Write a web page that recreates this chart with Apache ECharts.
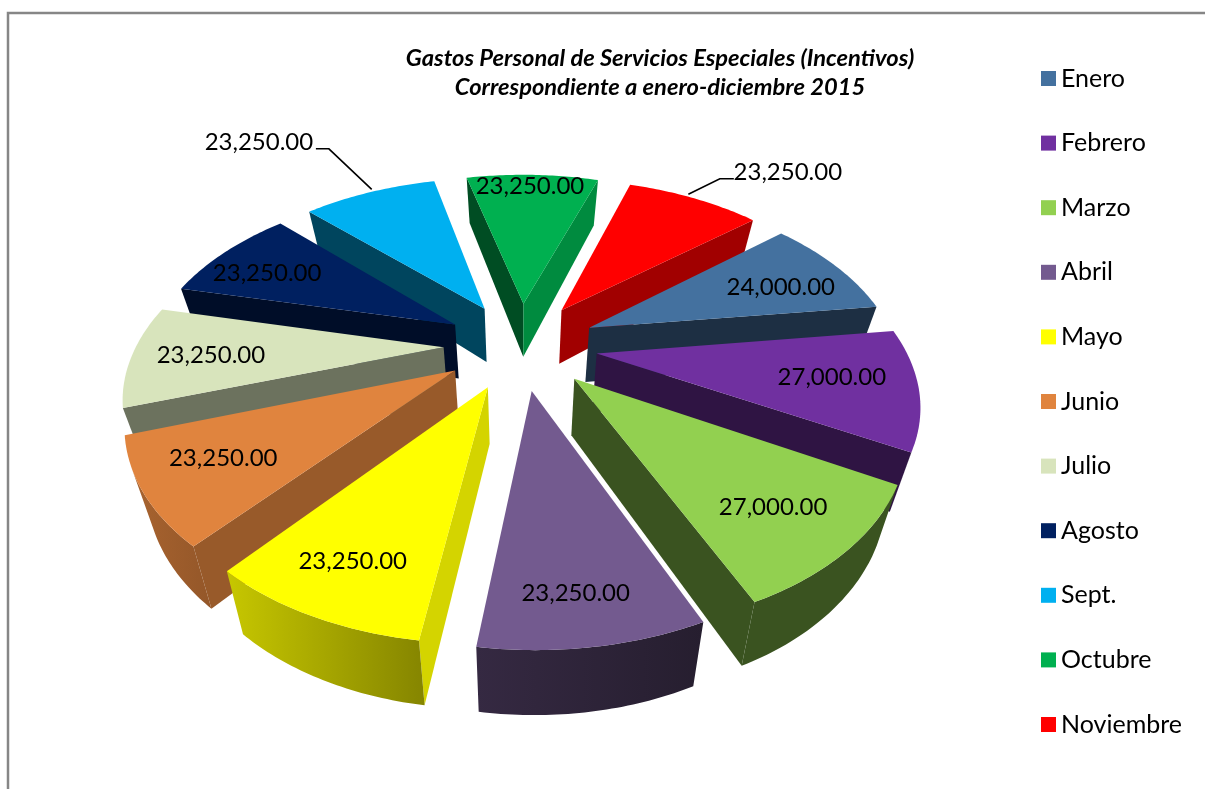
<!DOCTYPE html>
<html>
<head>
<meta charset="utf-8">
<style>html,body{margin:0;padding:0;background:#fff}#c{width:1205px;height:789px}</style>
<script src="https://cdn.jsdelivr.net/npm/echarts@6/dist/echarts.min.js"></script>
</head>
<body>
<div id="c"></div>
<script>
const months = ['Enero','Febrero','Marzo','Abril','Mayo','Junio','Julio','Agosto','Sept.','Octubre','Noviembre'];
const amounts = [24000,27000,27000,23250,23250,23250,23250,23250,23250,23250,23250];
const colors = ['#44719F','#7030A0','#92D050','#735A8F','#FFFF00','#E0843E','#D8E4BC','#002060','#00B0F0','#00B050','#FF0000'];
const titleLines = ['Gastos Personal de Servicios Especiales (Incentivos)','Correspondiente a enero-diciembre 2015'];

// view model of the tilted, exploded pie
const VIEW = {cx:520.5, cy:345, rx:307, ry:175, k:0.228, explode:0.25, depth:55, depthFront:8, baseScale:0.945, firstAngle:-13.55, firstIndex:9};
// face brightness per slice: [start face, end face, outer left, outer right]
const SHADES = [[.42,.42,.42,.42],[.42,.42,.42,.38],[.4,.4,.4,.4],[.45,.45,.46,.33],[.83,.83,.78,.52],[.68,.68,.75,.66],[.5,.5,.5,.5],[.42,.42,.42,.42],[.39,.39,.39,.39],[.44,.79,.44,.79],[.63,.63,.63,.63]];
// label polar position relative to the slice: [radius, angle shift]
const LABELS = [[.745,2],[.74,-2],[.765,0],[.82,.8],[.795,.5],[.76,2],[.75,.7],[.78,-2],[1.74,-7.4],[.92,-.5],[1.48,8]];
const LABEL_DY = 3;
const LEADERS = {8:{shift:1, side:1, gap:57, run:13}, 10:{shift:-2, side:-1, gap:54, run:14}};

const total = amounts.reduce((a,b)=>a+b,0);
const starts = [];
(function(){
  let a = VIEW.firstAngle;
  for (let n=0;n<months.length;n++){
    const i=(VIEW.firstIndex+n)%months.length;
    starts[i]=a;
    a+=amounts[i]/total*360;
  }
})();
const rad = d=>d*Math.PI/180;
const planar=(deg,r)=>[Math.sin(rad(deg))*r,-Math.cos(rad(deg))*r];
function topPt(X,Y){
  const s=1/(1-VIEW.k*Y);
  return [VIEW.cx+X*VIEW.rx*s, VIEW.cy+Y*VIEW.ry*s];
}
function botPt(X,Y){
  const p=topPt(X,Y);
  return [VIEW.cx+(p[0]-VIEW.cx)*VIEW.baseScale, p[1]+VIEW.depth+VIEW.depthFront*Y];
}
function shade(hex,f){
  const n=parseInt(hex.slice(1),16);
  const c=[n>>16&255,n>>8&255,n&255].map(v=>Math.round(v*f));
  return 'rgb('+c.join(',')+')';
}
function area(pts){
  let s=0;
  for(let i=0;i<pts.length;i++){const a=pts[i],b=pts[(i+1)%pts.length];s+=a[0]*b[1]-b[0]*a[1];}
  return s/2;
}
function fmt(v){return v.toLocaleString('en-US',{minimumFractionDigits:2,maximumFractionDigits:2});}

function sliceItem(i){
  const a0=starts[i], sweep=amounts[i]/total*360, mid=a0+sweep/2;
  const off=planar(mid,VIEW.explode);
  const P=(deg,r)=>{const q=planar(deg,r);return [q[0]+off[0],q[1]+off[1]];};
  const steps=40, arc=[];
  for(let t=0;t<=steps;t++) arc.push(P(a0+sweep*t/steps,1));
  const kids=[];
  const col=colors[i], sh=SHADES[i];
  const addFace=(pts,fill)=>{ kids.push({type:'polygon',shape:{points:pts},style:{fill:fill,stroke:null}}); };
  // radial faces, drawn only when they face the viewer
  const apexT=topPt(off[0],off[1]), apexB=botPt(off[0],off[1]);
  const startFace=[apexT,topPt(arc[0][0],arc[0][1]),botPt(arc[0][0],arc[0][1]),apexB];
  const endFace=[apexT,apexB,botPt(arc[steps][0],arc[steps][1]),topPt(arc[steps][0],arc[steps][1])];
  if(area(startFace)<0) addFace(startFace,shade(col,sh[0]));
  if(area(endFace)<0) addFace(endFace,shade(col,sh[1]));
  // outer wall: the run of segments that faces the viewer
  const run=[];
  for(let t=0;t<steps;t++){
    const a=arc[t],b=arc[t+1];
    const q=[topPt(a[0],a[1]),topPt(b[0],b[1]),botPt(b[0],b[1]),botPt(a[0],a[1])];
    if(area(q)<0) run.push(t);
  }
  if(run.length){
    const tops=[],bots=[];
    for(let t=run[0];t<=run[run.length-1]+1;t++){tops.push(topPt(arc[t][0],arc[t][1]));bots.push(botPt(arc[t][0],arc[t][1]));}
    addFace(tops.concat(bots.reverse()),{type:'linear',x:0,y:0,x2:1,y2:0,colorStops:[{offset:0,color:shade(col,sh[2])},{offset:1,color:shade(col,sh[3])}]});
  }
  // top face
  addFace([apexT].concat(arc.map(p=>topPt(p[0],p[1]))),col);
  // label
  const lp=LABELS[i], lq=P(mid+lp[1],lp[0]), lpos=topPt(lq[0],lq[1]);
  lpos[1]+=LABEL_DY;
  const ld=LEADERS[i];
  if(ld){
    const e=P(mid+ld.shift,1.02), ep=topPt(e[0],e[1]);
    const hx=lpos[0]+ld.side*ld.gap, y=lpos[1]+7;
    kids.push({type:'polyline',shape:{points:[[hx,y],[hx+ld.side*ld.run,y],ep]},style:{stroke:'#000',lineWidth:1.6,fill:null}});
  }
  kids.push({type:'text',z2:10,style:{text:fmt(amounts[i]),x:lpos[0],y:lpos[1],fill:'#000',font:'24px Lato',textAlign:'center',textVerticalAlign:'middle'}});
  return {type:'group',children:kids};
}

const drawOrder=months.map((m,i)=>i).sort((p,q)=>{
  const mid=i=>starts[i]+amounts[i]/total*180;
  return -Math.cos(rad(mid(p)))+Math.cos(rad(mid(q)));
});

const chart=echarts.init(document.getElementById('c'),null,{renderer:'canvas'});
chart.setOption({
  animation:false,
  backgroundColor:'#fff',
  title:{
    text:titleLines.join('\n'),left:655,top:39,textAlign:'center',
    textStyle:{fontFamily:'Lato',fontStyle:'italic',fontWeight:'bold',fontSize:23.7,lineHeight:29,color:'#000'}
  },
  legend:{
    data:months,orient:'vertical',left:1036,top:61,itemWidth:15,itemHeight:15,itemGap:39.6,icon:'rect',
    selectedMode:false,textStyle:{fontFamily:'Lato',fontSize:25,lineHeight:24,color:'#000'}
  },
  graphic:[{type:'polyline',silent:true,shape:{points:[[8,789],[8,13],[1205,13]]},style:{stroke:'#868686',lineWidth:2.5,fill:null}}],
  series:drawOrder.map(i=>({
    type:'custom',name:months[i],coordinateSystem:'none',silent:true,animation:false,
    itemStyle:{color:colors[i]},data:[amounts[i]],
    renderItem:()=>sliceItem(i)
  }))
});
</script>
</body>
</html>
